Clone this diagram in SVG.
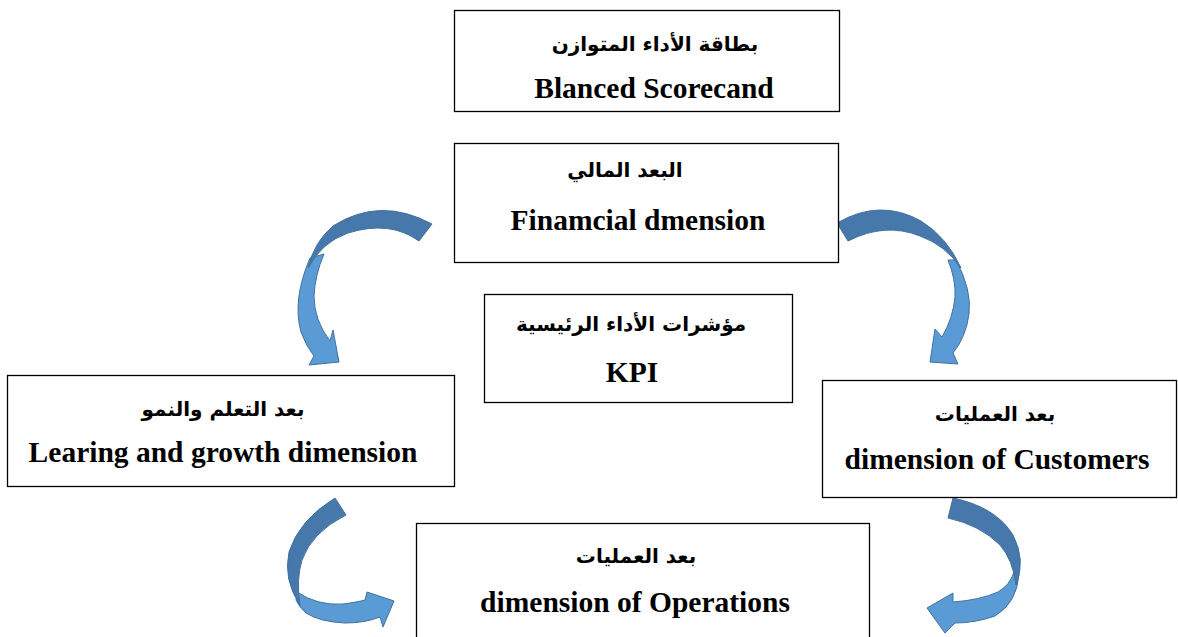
<svg xmlns="http://www.w3.org/2000/svg" width="1178" height="637" viewBox="0 0 1178 637">
<style>
.box{fill:#fff;stroke:#000;stroke-width:1.3}
.en{font-family:"Liberation Serif","Times New Roman",serif;font-weight:bold;font-size:29.5px;fill:#000;text-anchor:middle}
.ar{font-family:"DejaVu Sans",sans-serif;font-weight:bold;font-size:20px;fill:#000;text-anchor:middle;direction:rtl}
.dk{fill:#4778ab;stroke:#41719c;stroke-width:1}
.lt{fill:#5b9bd5;stroke:#41719c;stroke-width:1}
</style>
<rect width="1178" height="637" fill="#fff"/>
<g id="connectors">
  <g id="arrow-fin-learn">
    <path class="lt" d="M310,258 Q292,300 301,332 Q306,346 314,356 L309,365 L339,362 L333,330 L330,341 Q314,320 314,296 Q315,275 324,254 Z"/>
    <path class="dk" d="M432,224 Q380,196 333,226 Q314,242 308,268 Q322,242 348,233 Q390,220 419,241 Z"/>
  </g>
  <g id="arrow-fin-cust">
    <path class="lt" d="M956,260 Q972,290 969,314 Q966,337 953,353 L958,364 L930,362 L935,329 L942,337 Q953,318 955,297 Q956,280 948,260 Z"/>
    <path class="dk" d="M837,223 Q880,198 921,221 Q947,237 961,268 Q945,245 920,236 Q885,222 848,241 Z"/>
  </g>
  <g id="arrow-learn-ops">
    <path class="lt" d="M297,592 Q318,606 343,604 Q358,602 365,600 L367,592 L394,601 L383,627 L380,617 Q365,623 345,623 Q320,622 306,613 Q299,607 296,600 Z"/>
    <path class="dk" d="M335,498 Q299,520 289,552 Q283,580 300,605 Q296,580 302,560 Q312,532 346,515 Z"/>
  </g>
  <g id="arrow-cust-ops">
    <path class="lt" d="M1019,574 Q1017,603 995,616 Q975,623 955,623 L945,633 L927,608 L953,593 L953,602 Q980,600 998,592 Q1010,585 1014,572 Z"/>
    <path class="dk" d="M953,498 Q996,507 1013,535 Q1026,560 1016,585 Q1013,560 1000,545 Q980,525 948,518 Z"/>
  </g>
</g>
<g id="node-bsc">
  <rect class="box" x="454.5" y="10.5" width="385" height="101"/>
  <text class="ar" x="655" y="51">بطاقة الأداء المتوازن</text>
  <text class="en" x="654" y="98">Blanced Scorecand</text>
</g>
<g id="node-financial">
  <rect class="box" x="454.5" y="143.5" width="384" height="119"/>
  <text class="ar" x="625" y="177">البعد المالي</text>
  <text class="en" x="638" y="230">Finamcial dmension</text>
</g>
<g id="node-kpi">
  <rect class="box" x="484.5" y="294.5" width="308" height="108"/>
  <text class="ar" x="631" y="331">مؤشرات الأداء الرئيسية</text>
  <text class="en" x="632" y="382">KPI</text>
</g>
<g id="node-learning">
  <rect class="box" x="7.5" y="375.5" width="447" height="111"/>
  <text class="ar" x="223" y="416">بعد التعلم والنمو</text>
  <text class="en" x="223" y="462">Learing and growth dimension</text>
</g>
<g id="node-customers">
  <rect class="box" x="822.5" y="380.5" width="354" height="117"/>
  <text class="ar" x="995" y="421">بعد العمليات</text>
  <text class="en" x="997" y="469">dimension of Customers</text>
</g>
<g id="node-operations">
  <rect class="box" x="416.5" y="523.5" width="453" height="120"/>
  <text class="ar" x="636" y="563">بعد العمليات</text>
  <text class="en" x="635" y="612">dimension of Operations</text>
</g>
</svg>
